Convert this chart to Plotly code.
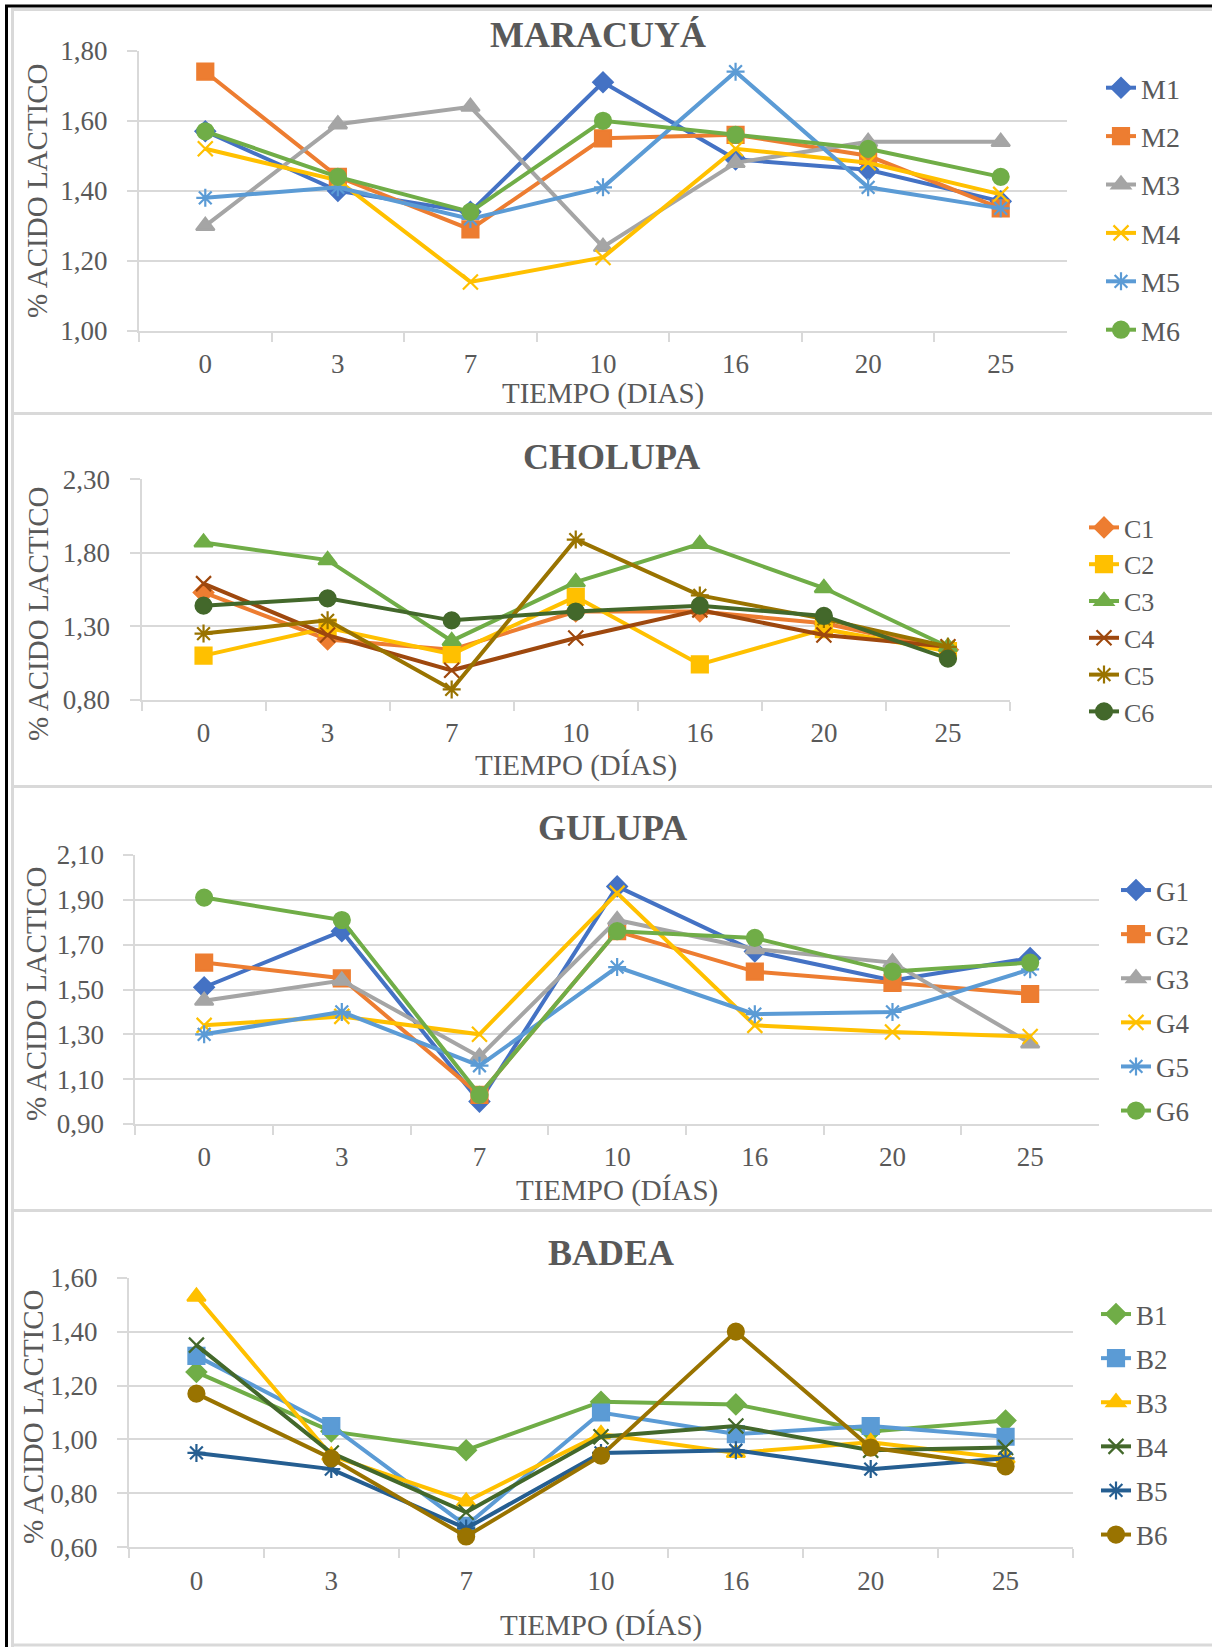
import plotly.graph_objects as go

W, H = 1212, 1647

DAYS = ["0", "3", "7", "10", "16", "20", "25"]

# ---------------- MARACUYÁ ----------------
M_NAMES = ["M1", "M2", "M3", "M4", "M5", "M6"]
M1 = [1.57, 1.40, 1.34, 1.71, 1.49, 1.46, 1.37]
M2 = [1.74, 1.44, 1.29, 1.55, 1.56, 1.50, 1.35]
M3 = [1.30, 1.59, 1.64, 1.24, 1.48, 1.54, 1.54]
M4 = [1.52, 1.43, 1.14, 1.21, 1.52, 1.48, 1.39]
M5 = [1.38, 1.41, 1.32, 1.41, 1.74, 1.41, 1.35]
M6 = [1.57, 1.44, 1.34, 1.60, 1.56, 1.52, 1.44]

# ---------------- CHOLUPA ----------------
C_NAMES = ["C1", "C2", "C3", "C4", "C5", "C6"]
C1 = [1.53, 1.21, 1.14, 1.40, 1.40, 1.32, 1.14]
C2 = [1.10, 1.29, 1.11, 1.50, 1.04, 1.28, 1.13]
C3 = [1.87, 1.75, 1.20, 1.60, 1.86, 1.56, 1.16]
C4 = [1.59, 1.24, 1.00, 1.22, 1.41, 1.24, 1.16]
C5 = [1.25, 1.34, 0.87, 1.89, 1.51, 1.35, 1.16]
C6 = [1.44, 1.49, 1.34, 1.40, 1.44, 1.37, 1.08]

# ---------------- GULUPA ----------------
G_NAMES = ["G1", "G2", "G3", "G4", "G5", "G6"]
G1 = [1.51, 1.76, 1.00, 1.96, 1.67, 1.54, 1.64]
G2 = [1.62, 1.55, 1.03, 1.76, 1.58, 1.53, 1.48]
G3 = [1.45, 1.54, 1.20, 1.81, 1.68, 1.62, 1.26]
G4 = [1.34, 1.38, 1.30, 1.93, 1.34, 1.31, 1.29]
G5 = [1.30, 1.40, 1.16, 1.60, 1.39, 1.40, 1.59]
G6 = [1.91, 1.81, 1.03, 1.76, 1.73, 1.58, 1.62]

# ---------------- BADEA ----------------
B_NAMES = ["B1", "B2", "B3", "B4", "B5", "B6"]
B1 = [1.25, 1.03, 0.96, 1.14, 1.13, 1.03, 1.07]
B2 = [1.31, 1.05, 0.68, 1.10, 1.02, 1.05, 1.01]
B3 = [1.53, 0.94, 0.77, 1.02, 0.95, 0.99, 0.93]
B4 = [1.35, 0.95, 0.73, 1.01, 1.05, 0.96, 0.97]
B5 = [0.95, 0.89, 0.67, 0.95, 0.96, 0.89, 0.93]
B6 = [1.17, 0.93, 0.64, 0.94, 1.40, 0.97, 0.90]

SYMBOLS = ["diamond", "square", "triangle-up", "x-thin-open", "asterisk-open", "circle"]
SIZES = [15, 16, 16, 15, 15, 16]

M_COLORS = ["#4472C4", "#ED7D31", "#A5A5A5", "#FFC000", "#5B9BD5", "#70AD47"]
C_COLORS = ["#ED7D31", "#FFC000", "#70AD47", "#9E480E", "#997300", "#43682B"]
G_COLORS = ["#4472C4", "#ED7D31", "#A5A5A5", "#FFC000", "#5B9BD5", "#70AD47"]
B_COLORS = ["#70AD47", "#5B9BD5", "#FFC000", "#43682B", "#255E91", "#997300"]

FONT = "Liberation Serif, Times New Roman, serif"
TXT = "#595959"
GRID = "#D9D9D9"

panels = [
    dict(title="MARACUYÁ", names=M_NAMES, data=[M1, M2, M3, M4, M5, M6], colors=M_COLORS,
         xdom=(139, 1067), ydom=(50.7, 331), yrange=[1.0, 1.8], dtick=0.2,
         xtitle="TIEMPO (DIAS)", title_y=35, title_x=598, ytitle_x=37, ytitle_y=191, xtitle_y=394,
         leg_x=1101, leg_y=63, leg_font=28, leg_gap=9),
    dict(title="CHOLUPA", names=C_NAMES, data=[C1, C2, C3, C4, C5, C6], colors=C_COLORS,
         xdom=(141.5, 1010), ydom=(479.3, 699.7), yrange=[0.8, 2.3], dtick=0.5,
         xtitle="TIEMPO (DÍAS)", title_y=457, title_x=611, ytitle_x=38, ytitle_y=614, xtitle_y=765,
         leg_x=1084, leg_y=504, leg_font=26, leg_gap=0),
    dict(title="GULUPA", names=G_NAMES, data=[G1, G2, G3, G4, G5, G6], colors=G_COLORS,
         xdom=(135.3, 1099), ydom=(855, 1124), yrange=[0.9, 2.1], dtick=0.2,
         xtitle="TIEMPO (DÍAS)", title_y=828, title_x=612, ytitle_x=36, ytitle_y=994, xtitle_y=1190,
         leg_x=1116, leg_y=866, leg_font=27, leg_gap=6),
    dict(title="BADEA", names=B_NAMES, data=[B1, B2, B3, B4, B5, B6], colors=B_COLORS,
         xdom=(129, 1073), ydom=(1277.7, 1547.3), yrange=[0.6, 1.6], dtick=0.2,
         xtitle="TIEMPO (DÍAS)", title_y=1253, title_x=611, ytitle_x=33, ytitle_y=1417, xtitle_y=1625,
         leg_x=1096, leg_y=1290, leg_font=27, leg_gap=6),
]

fig = go.Figure()
layout = dict(
    width=W, height=H,
    margin=dict(l=0, r=0, t=0, b=0, pad=0, autoexpand=False),
    paper_bgcolor="white", plot_bgcolor="white",
    separators=",.",
    font=dict(family=FONT, color=TXT),
    annotations=[], shapes=[],
)

for i, p in enumerate(panels, start=1):
    xa = "x" if i == 1 else f"x{i}"
    ya = "y" if i == 1 else f"y{i}"
    lg = "legend" if i == 1 else f"legend{i}"
    for j, (name, vals, col) in enumerate(zip(p["names"], p["data"], p["colors"])):
        fig.add_trace(go.Scatter(
            x=DAYS, y=vals, name=name, mode="lines+markers",
            line=dict(color=col, width=4),
            marker=dict(symbol=SYMBOLS[j], size=SIZES[j], color=col,
                        line=dict(color=col, width=2.2)),
            xaxis=xa, yaxis=ya, legend=lg, legendgroup=f"{lg}_{name}",
        ))
    xkey = "xaxis" if i == 1 else f"xaxis{i}"
    ykey = "yaxis" if i == 1 else f"yaxis{i}"
    layout[xkey] = dict(
        domain=[p["xdom"][0] / W, p["xdom"][1] / W],
        anchor=ya, type="category", categoryorder="array", categoryarray=DAYS,
        range=[-0.5, 6.5], tickson="boundaries", ticks="outside", ticklen=9,
        tickcolor=GRID, tickwidth=2, showline=True, linecolor=GRID, linewidth=2,
        showgrid=False, tickfont=dict(size=27, color=TXT, family=FONT),
        ticklabelstandoff=8, fixedrange=True, automargin=False,
    )
    layout[ykey] = dict(
        domain=[1 - p["ydom"][1] / H, 1 - p["ydom"][0] / H],
        anchor=xa, range=p["yrange"], dtick=p["dtick"], tick0=p["yrange"][0],
        tickmode="linear", tickformat=".2f",
        showgrid=True, gridcolor=GRID, gridwidth=2, zeroline=False,
        showline=True, linecolor=GRID, linewidth=2,
        ticks="outside", ticklen=10, tickcolor=GRID, tickwidth=2,
        tickfont=dict(size=27, color=TXT, family=FONT), ticklabelstandoff=14,
        fixedrange=True, automargin=False,
    )
    layout[lg] = dict(
        x=p["leg_x"] / W, y=1 - p["leg_y"] / H, xanchor="left", yanchor="top",
        bgcolor="rgba(0,0,0,0)", borderwidth=0,
        font=dict(size=p["leg_font"], color=TXT, family=FONT),
        tracegroupgap=p["leg_gap"], traceorder="grouped", itemsizing="trace",
    )
    layout["annotations"] += [
        dict(text=f"<b>{p['title']}</b>", x=p["title_x"] / W, y=1 - p["title_y"] / H,
             xref="paper", yref="paper", xanchor="center", yanchor="middle",
             showarrow=False, font=dict(size=36, color=TXT, family=FONT)),
        dict(text="% ACIDO LACTICO", x=p["ytitle_x"] / W, y=1 - p["ytitle_y"] / H,
             xref="paper", yref="paper", xanchor="center", yanchor="middle", textangle=-90,
             showarrow=False, font=dict(size=29, color=TXT, family=FONT)),
        dict(text=p["xtitle"], x=(p["xdom"][0] + p["xdom"][1]) / 2 / W, y=1 - p["xtitle_y"] / H,
             xref="paper", yref="paper", xanchor="center", yanchor="middle",
             showarrow=False, font=dict(size=29, color=TXT, family=FONT)),
    ]

# frame: black outer border (left/top) and light gray panel borders
def hline(y, x0, x1, color, w):
    return dict(type="line", xref="paper", yref="paper", x0=x0 / W, x1=x1 / W,
                y0=1 - y / H, y1=1 - y / H, line=dict(color=color, width=w))

def vline(x, y0, y1, color, w):
    return dict(type="line", xref="paper", yref="paper", x0=x / W, x1=x / W,
                y0=1 - y0 / H, y1=1 - y1 / H, line=dict(color=color, width=w))

for yy in [9.5, 413.5, 786.5, 1210.5, 1645]:
    layout["shapes"].append(hline(yy, 11, W, GRID, 3))
layout["shapes"].append(vline(12.5, 9, 1647, GRID, 3))
layout["shapes"].append(hline(6, 5, W, "black", 3))
layout["shapes"].append(vline(6.5, 5, 1647, "black", 3))

fig.update_layout(**layout)
fig.write_html("out.html")
